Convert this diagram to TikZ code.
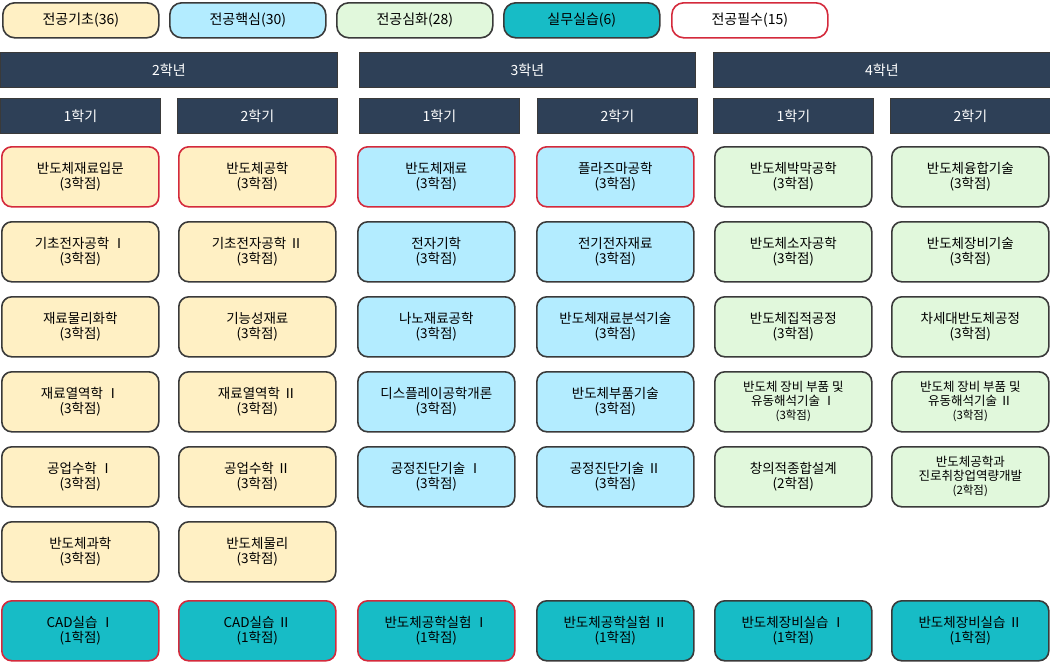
\documentclass[tikz,border=0pt]{standalone}
\usepackage{fontspec}
\setmainfont{Noto Sans CJK KR}
\definecolor{cy}{HTML}{FFF0C4}
\definecolor{cb}{HTML}{B3ECFF}
\definecolor{cg}{HTML}{E1F8DC}
\definecolor{ct}{HTML}{17BCC6}
\definecolor{cn}{HTML}{2E4057}
\definecolor{cr}{HTML}{D42A3C}
\definecolor{cd}{HTML}{3A3A3A}
\tikzset{
 course/.style={draw=cd,line width=1.6pt,rounded corners=10pt,anchor=north west,minimum width=157pt,minimum height=60pt,align=center,font=\fontsize{13.5}{15.5}\selectfont,inner sep=1pt},
 req/.style={draw=cr},
 leg/.style={draw=cd,line width=1.6pt,rounded corners=12pt,anchor=north west,minimum width=156pt,minimum height=35pt,font=\fontsize{14}{16}\selectfont},
 bar/.style={fill=cn,anchor=north west,minimum height=35pt,text=white,font=\fontsize{14}{16}\selectfont,draw=cd,line width=0.8pt}
}
\newcommand{\crs}[5]{\node[course,fill=#3,#4] (#1) at (#2) {#5};}
\begin{document}
\begin{tikzpicture}[x=1pt,y=-1pt]
\useasboundingbox (0,0) rectangle (1050,664);
% legend
\node[leg,fill=cy] (l1) at (2,2) {전공기초(36)};
\node[leg,fill=cb] (l2) at (169,2) {전공핵심(30)};
\node[leg,fill=cg] (l3) at (336,2) {전공심화(28)};
\node[leg,fill=ct] (l4) at (503,2) {실무실습(6)};
\node[leg,fill=white,draw=cr] (l5) at (671,2) {전공필수(15)};
% years
\node[bar,minimum width=337pt] (y2) at (0,52) {2학년};
\node[bar,minimum width=336pt] (y3) at (359,52) {3학년};
\node[bar,minimum width=337pt] (y4) at (713,52) {4학년};
% semesters
\foreach \n/\x/\t in {s1/0/1학기,s2/177/2학기,s3/359/1학기,s4/537/2학기,s5/713/1학기,s6/890/2학기}
 \node[bar,minimum width=160pt] (\n) at (\x,98) {\t};
% col1
\crs{a1}{1,146}{cy}{req}{반도체재료입문\\(3학점)}
\crs{a2}{1,221}{cy}{}{기초전자공학 Ⅰ\\(3학점)}
\crs{a3}{1,296}{cy}{}{재료물리화학\\(3학점)}
\crs{a4}{1,371}{cy}{}{재료열역학 Ⅰ\\(3학점)}
\crs{a5}{1,446}{cy}{}{공업수학 Ⅰ\\(3학점)}
\crs{a6}{1,521}{cy}{}{반도체과학\\(3학점)}
\crs{a7}{1,600}{ct}{req}{CAD실습 Ⅰ\\(1학점)}
% col2
\crs{b1}{178,146}{cy}{req}{반도체공학\\(3학점)}
\crs{b2}{178,221}{cy}{}{기초전자공학 Ⅱ\\(3학점)}
\crs{b3}{178,296}{cy}{}{기능성재료\\(3학점)}
\crs{b4}{178,371}{cy}{}{재료열역학 Ⅱ\\(3학점)}
\crs{b5}{178,446}{cy}{}{공업수학 Ⅱ\\(3학점)}
\crs{b6}{178,521}{cy}{}{반도체물리\\(3학점)}
\crs{b7}{178,600}{ct}{req}{CAD실습 Ⅱ\\(1학점)}
% col3
\crs{c1}{357,146}{cb}{req}{반도체재료\\(3학점)}
\crs{c2}{357,221}{cb}{}{전자기학\\(3학점)}
\crs{c3}{357,296}{cb}{}{나노재료공학\\(3학점)}
\crs{c4}{357,371}{cb}{}{디스플레이공학개론\\(3학점)}
\crs{c5}{357,446}{cb}{}{공정진단기술 Ⅰ\\(3학점)}
\crs{c7}{357,600}{ct}{req}{반도체공학실험 Ⅰ\\(1학점)}
% col4
\crs{d1}{536,146}{cb}{req}{플라즈마공학\\(3학점)}
\crs{d2}{536,221}{cb}{}{전기전자재료\\(3학점)}
\crs{d3}{536,296}{cb}{}{반도체재료분석기술\\(3학점)}
\crs{d4}{536,371}{cb}{}{반도체부품기술\\(3학점)}
\crs{d5}{536,446}{cb}{}{공정진단기술 Ⅱ\\(3학점)}
\crs{d7}{536,600}{ct}{}{반도체공학실험 Ⅱ\\(1학점)}
% col5
\crs{e1}{714,146}{cg}{}{반도체박막공학\\(3학점)}
\crs{e2}{714,221}{cg}{}{반도체소자공학\\(3학점)}
\crs{e3}{714,296}{cg}{}{반도체집적공정\\(3학점)}
\crs{e4}{714,371}{cg}{font=\fontsize{12.5}{14}\selectfont}{반도체 장비 부품 및\\유동해석기술 Ⅰ\\{\fontsize{11.5}{13}\selectfont(3학점)}}
\crs{e5}{714,446}{cg}{}{창의적종합설계\\(2학점)}
\crs{e7}{714,600}{ct}{}{반도체장비실습 Ⅰ\\(1학점)}
% col6
\crs{f1}{891,146}{cg}{}{반도체융합기술\\(3학점)}
\crs{f2}{891,221}{cg}{}{반도체장비기술\\(3학점)}
\crs{f3}{891,296}{cg}{}{차세대반도체공정\\(3학점)}
\crs{f4}{891,371}{cg}{font=\fontsize{12.5}{14}\selectfont}{반도체 장비 부품 및\\유동해석기술 Ⅱ\\{\fontsize{11.5}{13}\selectfont(3학점)}}
\crs{f5}{891,446}{cg}{font=\fontsize{12.5}{14}\selectfont}{반도체공학과\\진로취창업역량개발\\{\fontsize{11.5}{13}\selectfont(2학점)}}
\crs{f7}{891,600}{ct}{}{반도체장비실습 Ⅱ\\(1학점)}
\end{tikzpicture}
\end{document}
